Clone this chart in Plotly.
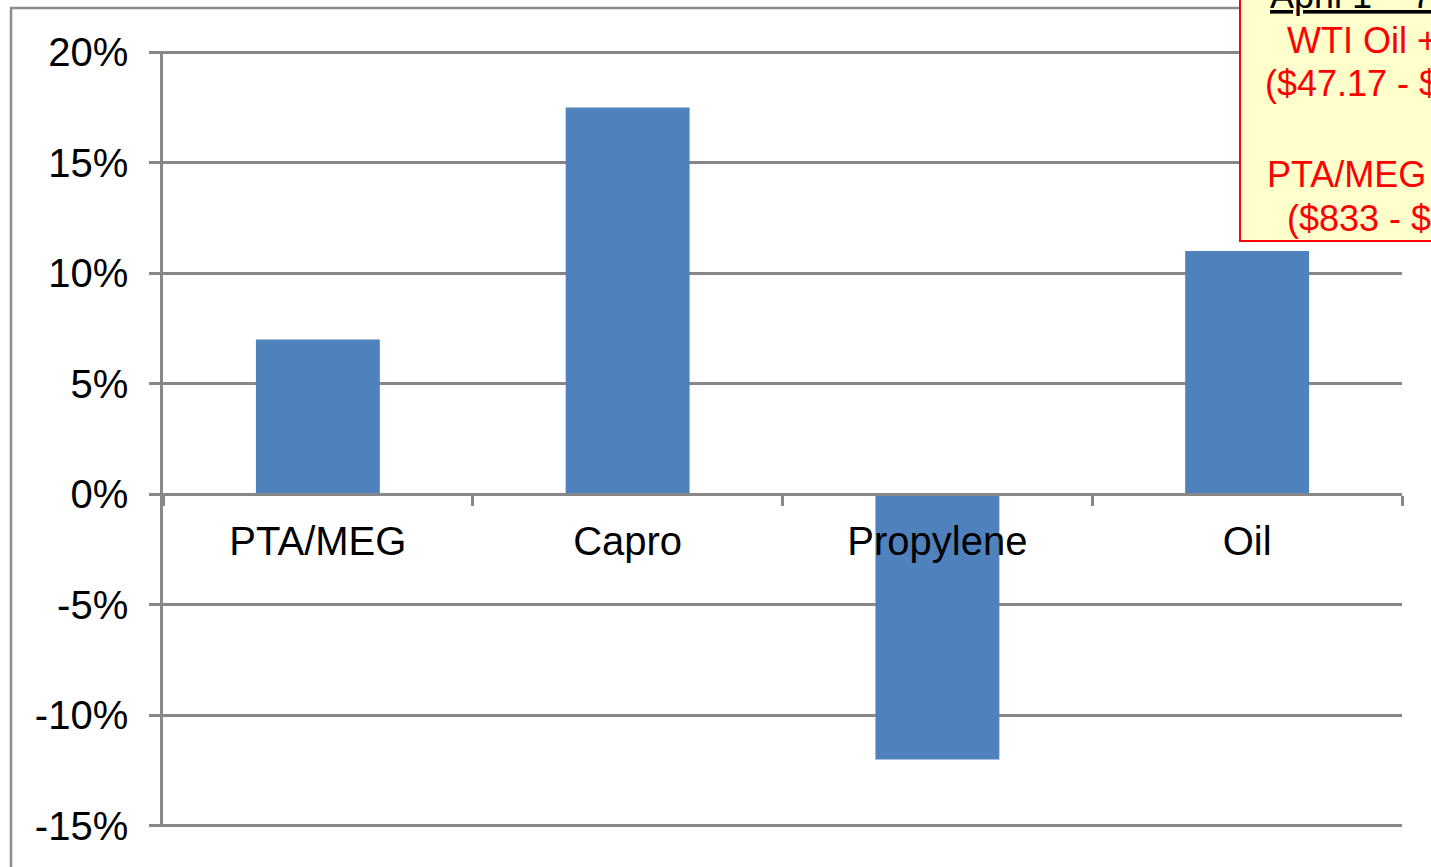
import plotly.graph_objects as go

categories = ["PTA/MEG", "Capro", "Propylene", "Oil"]
values = [7.0, 17.5, -12.0, 11.0]
y_ticks = [-15, -10, -5, 0, 5, 10, 15, 20]
y_tick_labels = [f"{v}%" for v in y_ticks]

box_title = "April 1 – 7, 2017"
box_lines = ["WTI Oil +11%", "($47.17 - $52.36)", "", "PTA/MEG +7%", "($833 - $891)"]

W, H = 1431, 867
L, R, T, B = 163, 1402, 51, 827
pw, ph = R - L, B - T
GRAY = "#878787"
FONT = "Liberation Sans, Arial, sans-serif"
YMIN, YMAX = -15.05, 20.05

def px(x):
    return (x - L) / pw

def py(y):
    return (B - y) / ph

fig = go.Figure()
fig.add_trace(go.Bar(x=categories, y=values, marker=dict(color="#4F81BD", line=dict(width=0)),
                     hoverinfo="skip"))

fig.update_layout(
    width=W, height=H,
    margin=dict(l=L, r=W - R, t=T, b=H - B),
    paper_bgcolor="white", plot_bgcolor="white",
    bargap=0.6, showlegend=False,
    font=dict(family=FONT, size=40, color="black"),
    xaxis=dict(
        anchor="free", position=(0 - YMIN) / (YMAX - YMIN),
        showline=True, linecolor=GRAY, linewidth=2.5,
        ticks="outside", tickson="boundaries", ticklen=10, tickwidth=2.5, tickcolor=GRAY,
        showgrid=False, tickfont=dict(size=40, color="black"), ticklabelstandoff=11,
        range=[-0.5, 3.5],
    ),
    yaxis=dict(
        range=[YMIN, YMAX], tickvals=y_ticks, ticktext=y_tick_labels,
        showline=True, linecolor=GRAY, linewidth=2.5,
        showgrid=True, gridcolor=GRAY, gridwidth=2.5, zeroline=False,
        ticks="outside", ticklen=11, tickwidth=2.5, tickcolor=GRAY,
        tickfont=dict(size=40, color="black"), ticklabelstandoff=13,
    ),
)

# outer frame (partially visible)
fig.add_shape(type="rect", xref="paper", yref="paper",
              x0=px(11), x1=px(1600), y0=py(1000), y1=py(8),
              line=dict(color="#8C8C8C", width=2.5), fillcolor="rgba(0,0,0,0)", layer="above")

# yellow note box
fig.add_shape(type="rect", xref="paper", yref="paper",
              x0=px(1240), x1=px(1700), y0=py(241), y1=py(-50),
              line=dict(color="#FF0000", width=2), fillcolor="#FFFFCC", layer="above")

fig.add_annotation(xref="paper", yref="paper", x=px(1268), y=py(-5), xanchor="left", yanchor="middle",
                   text=box_title, showarrow=False,
                   font=dict(family=FONT, size=36, color="black", lineposition="under"))
starts = [1285, 1263, None, 1265, 1285]
centers = [40, 84, None, 174, 218]
for txt, xs, yc in zip(box_lines, starts, centers):
    if not txt:
        continue
    fig.add_annotation(xref="paper", yref="paper", x=px(xs), y=py(yc), xanchor="left", yanchor="middle",
                       text=txt, showarrow=False,
                       font=dict(family=FONT, size=36, color="#FF0000"))

fig.write_html("out.html")
